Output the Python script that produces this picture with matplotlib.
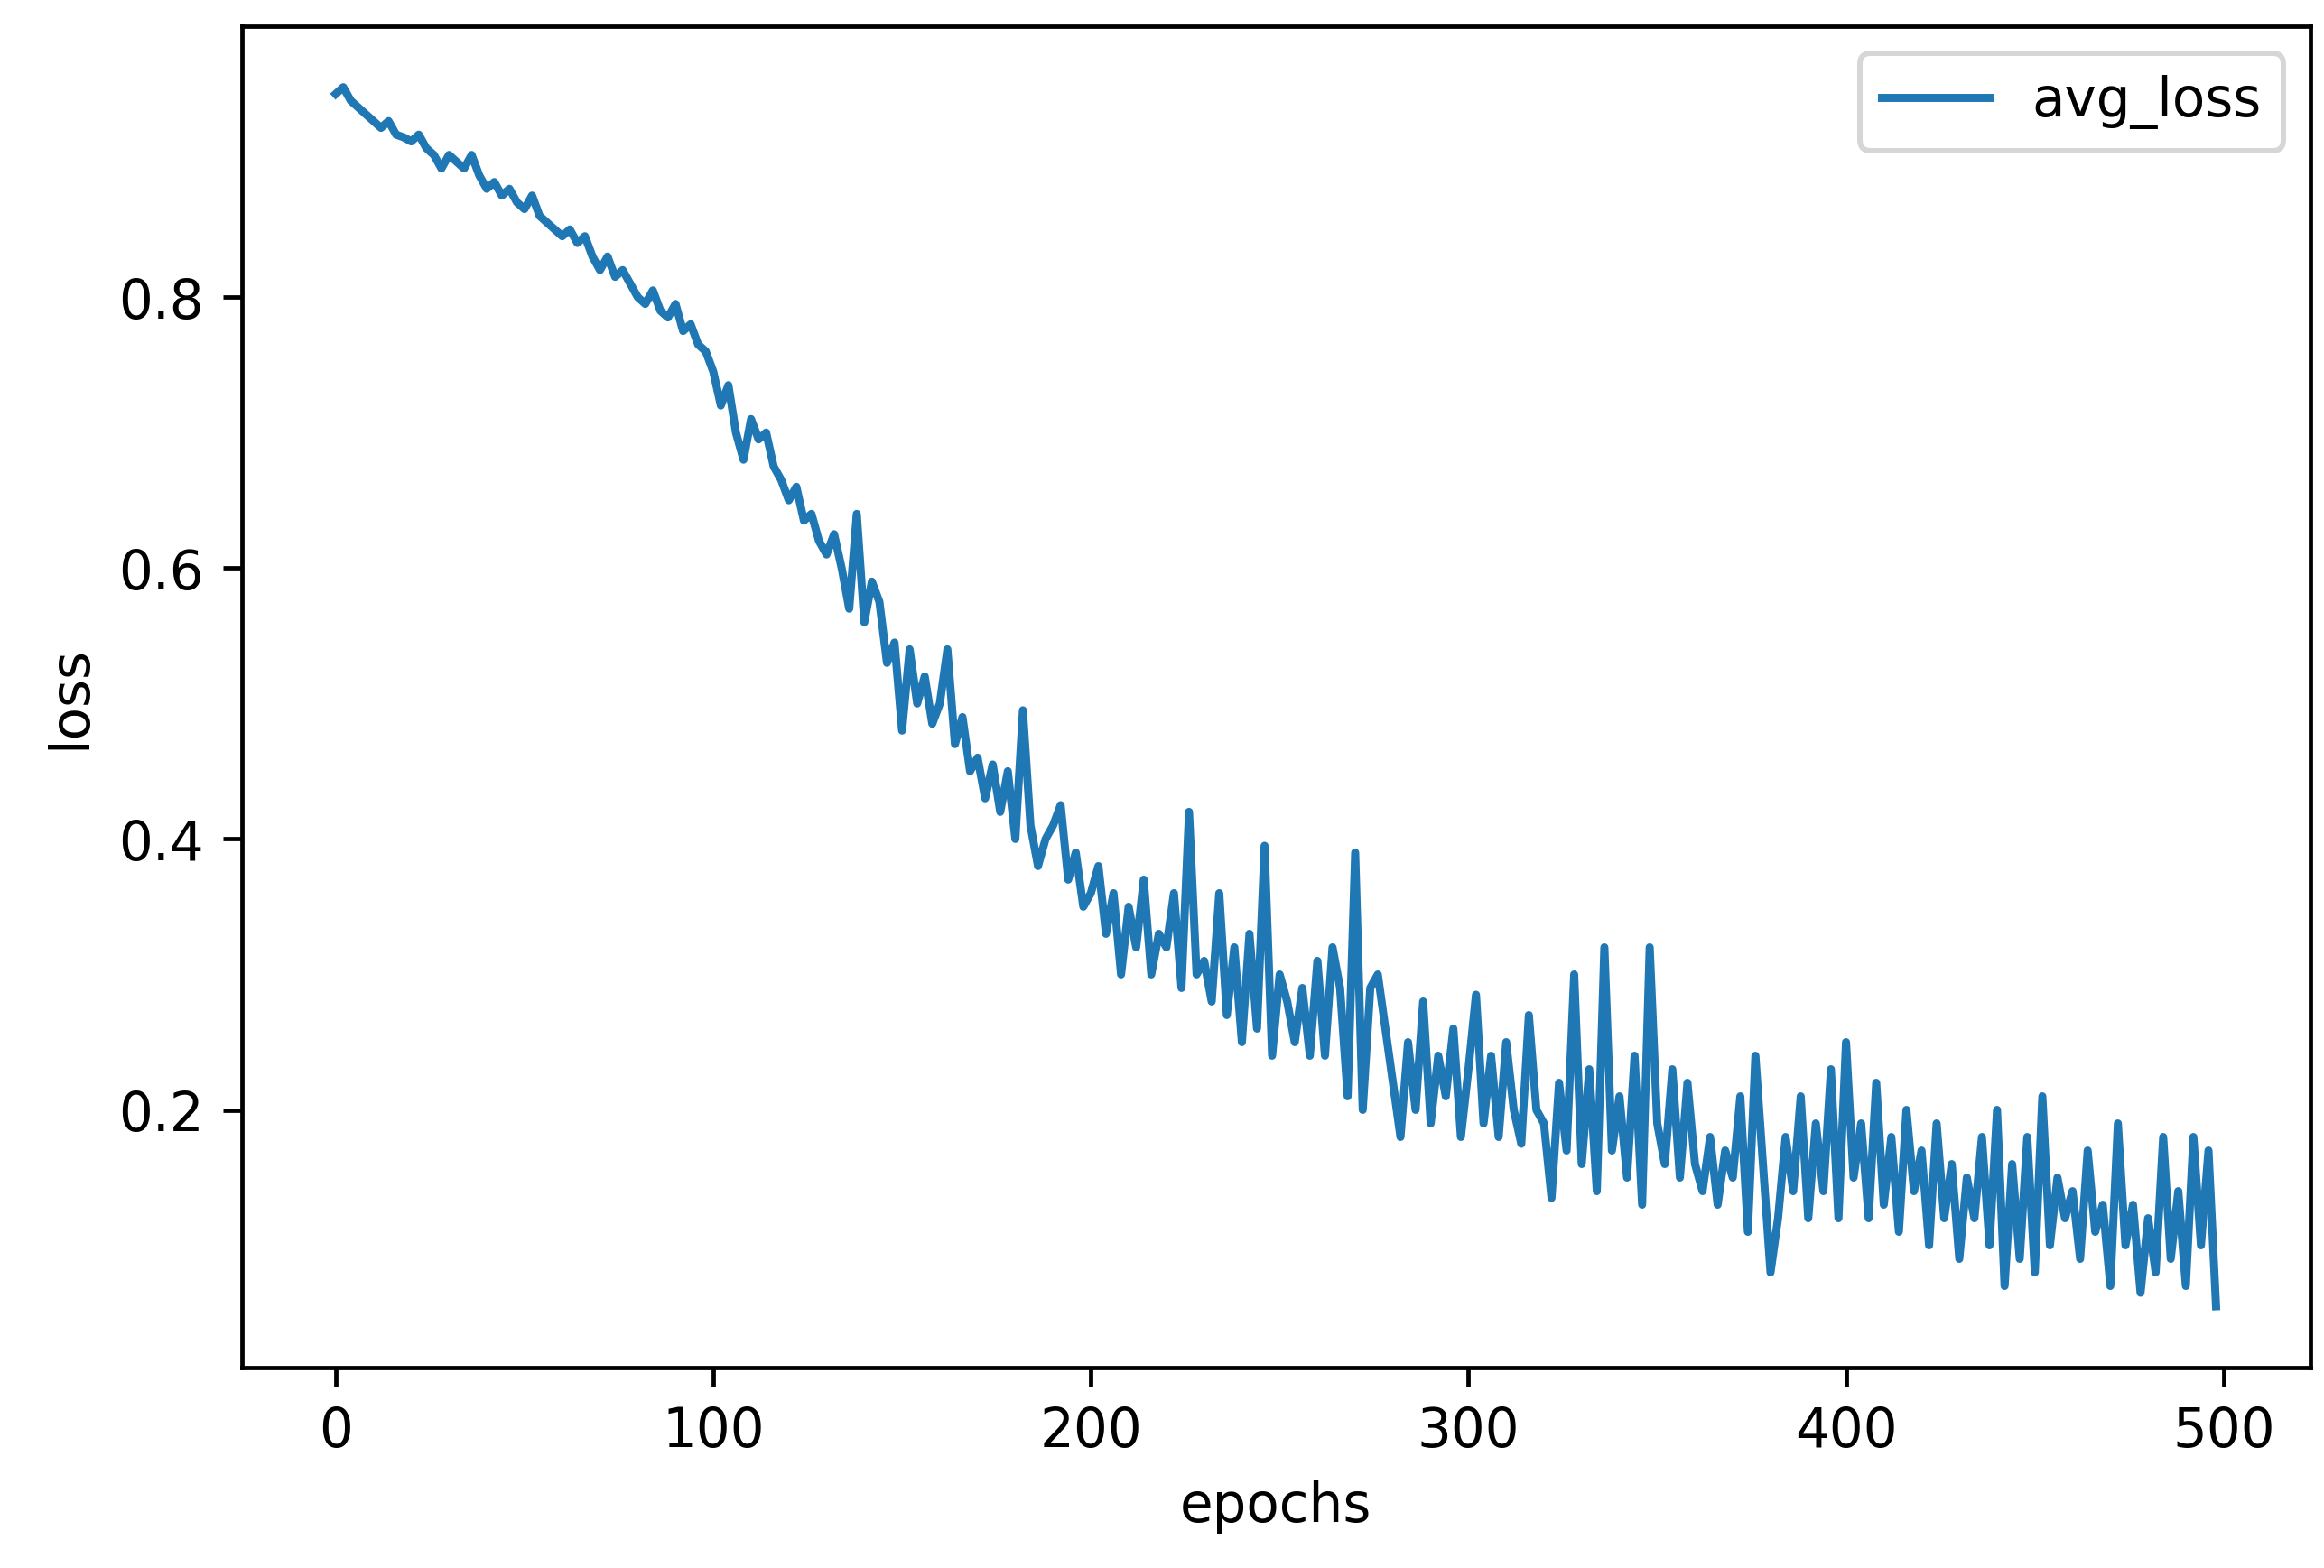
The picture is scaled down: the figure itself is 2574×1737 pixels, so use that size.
import matplotlib
matplotlib.use("Agg")
import matplotlib.pyplot as plt
import numpy as np

avg_loss = [
0.95,0.955,0.945,0.94,0.935,0.93,0.925,0.93,0.92,0.918,
0.915,0.92,0.91,0.905,0.895,0.905,0.90,0.895,0.905,0.89,
0.88,0.885,0.875,0.88,0.87,0.865,0.875,0.86,0.855,0.85,
0.845,0.85,0.84,0.845,0.83,0.82,0.83,0.815,0.82,0.81,
0.80,0.795,0.805,0.79,0.785,0.795,0.775,0.78,0.765,0.76,
0.745,0.72,0.735,0.70,0.68,0.71,0.695,0.70,0.675,0.665,
0.65,0.66,0.635,0.64,0.62,0.61,0.625,0.60,0.57,0.64,
0.56,0.59,0.575,0.53,0.545,0.48,0.54,0.50,0.52,0.485,
0.50,0.54,0.47,0.49,0.45,0.46,0.43,0.455,0.42,0.45,
0.40,0.495,0.41,0.38,0.40,0.41,0.425,0.37,0.39,0.35,
0.36,0.38,0.33,0.36,0.30,0.35,0.32,0.37,0.30,0.33,
0.32,0.36,0.29,0.42,0.30,0.31,0.28,0.36,0.27,0.32,
0.25,0.33,0.26,0.395,0.24,0.30,0.28,0.25,0.29,0.24,
0.31,0.24,0.32,0.29,0.21,0.39,0.20,0.29,0.30,0.26,
0.22,0.18,0.25,0.20,0.28,0.19,0.24,0.21,0.26,0.18,
0.23,0.285,0.19,0.24,0.18,0.25,0.20,0.175,0.27,0.20,
0.19,0.135,0.22,0.17,0.30,0.16,0.23,0.14,0.32,0.17,
0.21,0.15,0.24,0.13,0.32,0.19,0.16,0.23,0.15,0.22,
0.16,0.14,0.18,0.13,0.17,0.15,0.21,0.11,0.24,0.16,
0.08,0.12,0.18,0.14,0.21,0.12,0.19,0.14,0.23,0.12,
0.25,0.15,0.19,0.12,0.22,0.13,0.18,0.11,0.20,0.14,
0.17,0.10,0.19,0.12,0.16,0.09,0.15,0.12,0.18,0.10,
0.20,0.07,0.16,0.09,0.18,0.08,0.21,0.10,0.15,0.12,
0.14,0.09,0.17,0.11,0.13,0.07,0.19,0.10,0.13,0.065,
0.12,0.08,0.18,0.09,0.14,0.07,0.18,0.10,0.17,0.055,
]
epochs = np.arange(len(avg_loss)) * 2

fig = plt.figure(figsize=(6.0, 4.05), dpi=429)
ax = fig.add_axes([0.104, 0.128, 0.89, 0.855])
ax.plot(epochs, avg_loss, color="#1f77b4", lw=1.5, label="avg_loss")
ax.set_xlabel("epochs")
ax.set_ylabel("loss")
ax.set_yticks([0.2, 0.4, 0.6, 0.8])
ax.legend(loc="upper right")
fig.savefig("out.png", dpi=429)
